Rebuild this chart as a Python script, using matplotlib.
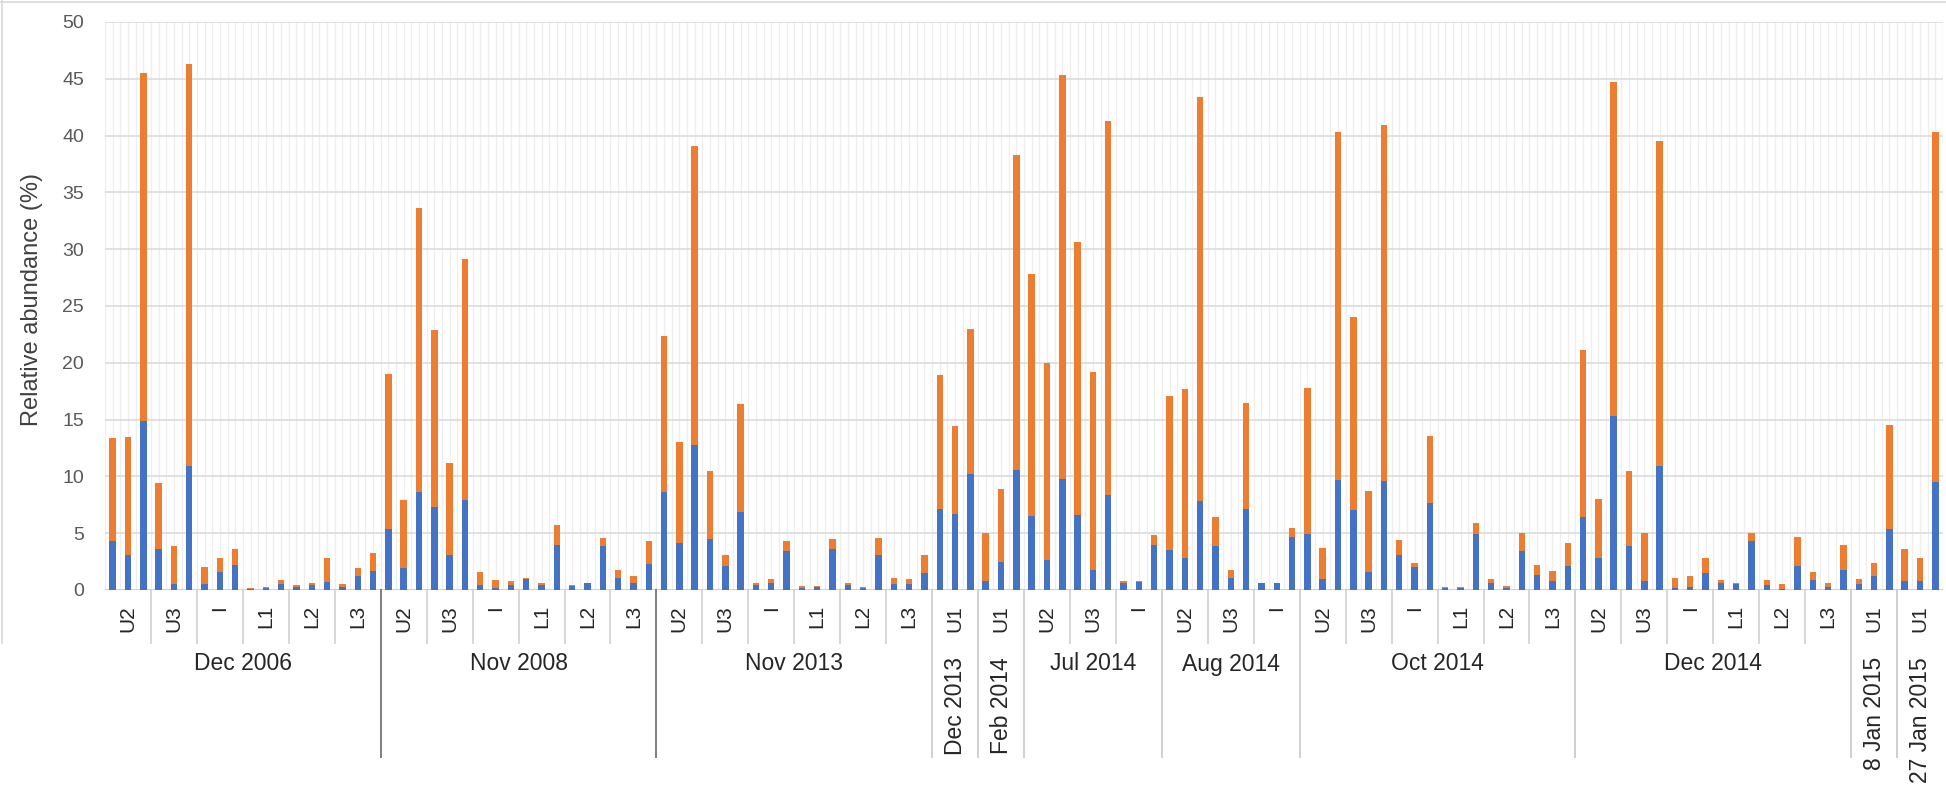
import numpy as np
import matplotlib
matplotlib.use('Agg')
import matplotlib.pyplot as plt
from matplotlib.lines import Line2D

plt.rcParams['font.family'] = ['Liberation Sans', 'DejaVu Sans']

# sampling dates and the sites sampled on each date (3 samples per site)
dates = ['Dec 2006', 'Nov 2008', 'Nov 2013', 'Dec 2013', 'Feb 2014', 'Jul 2014',
         'Aug 2014', 'Oct 2014', 'Dec 2014', '8 Jan 2015', '27 Jan 2015']
sites = [['U2', 'U3', 'I', 'L1', 'L2', 'L3'],
         ['U2', 'U3', 'I', 'L1', 'L2', 'L3'],
         ['U2', 'U3', 'I', 'L1', 'L2', 'L3'],
         ['U1'],
         ['U1'],
         ['U2', 'U3', 'I'],
         ['U2', 'U3', 'I'],
         ['U2', 'U3', 'I', 'L1', 'L2', 'L3'],
         ['U2', 'U3', 'I', 'L1', 'L2', 'L3'],
         ['U1'],
         ['U1']]
reps = 3

# lower (blue) part of each bar
blue = [4.3, 3.1, 14.9, 3.6, 0.5, 10.9, 0.5, 1.6, 2.2, 0.05, 0.2, 0.5, 0.3, 0.4, 0.7, 0.3, 1.2, 1.65,
        5.4, 1.9, 8.6, 7.3, 3.1, 7.9, 0.4, 0.2, 0.4, 1.0, 0.45, 4.0, 0.35, 0.6, 3.9, 1.1, 0.65, 2.3,
        8.6, 4.1, 12.8, 4.5, 2.1, 6.9, 0.4, 0.6, 3.4, 0.2, 0.25, 3.6, 0.4, 0.15, 3.1, 0.5, 0.5, 1.5,
        7.1, 6.7, 10.2,
        0.75, 2.5, 10.6,
        6.5, 2.6, 9.8, 6.6, 1.8, 8.4, 0.6, 0.7, 4.0,
        3.5, 2.8, 7.8, 3.9, 1.1, 7.1, 0.6, 0.6, 4.7,
        4.9, 1.0, 9.7, 7.0, 1.55, 9.6, 3.1, 2.0, 7.7, 0.15, 0.15, 4.9, 0.6, 0.2, 3.4, 1.35, 0.8, 2.1,
        6.4, 2.8, 15.3, 3.9, 0.75, 10.9, 0.2, 0.3, 1.5, 0.65, 0.5, 4.3, 0.4, 0.1, 2.1, 0.9, 0.3, 1.8,
        0.5, 1.25, 5.4,
        0.75, 0.75, 9.5]

# upper (orange) part of each bar
orange = [9.1, 10.4, 30.6, 5.8, 3.4, 35.4, 1.5, 1.2, 1.4, 0.15, 0.1, 0.35, 0.15, 0.2, 2.1, 0.25, 0.75, 1.65,
          13.6, 6.0, 25.0, 15.6, 8.1, 21.2, 1.15, 0.7, 0.35, 0.1, 0.15, 1.7, 0.1, 0.05, 0.7, 0.7, 0.55, 2.0,
          13.8, 8.9, 26.3, 6.0, 1.0, 9.5, 0.25, 0.4, 0.9, 0.15, 0.1, 0.9, 0.25, 0.1, 1.5, 0.6, 0.5, 1.6,
          11.8, 7.7, 12.8,
          4.25, 6.4, 27.7,
          21.3, 17.4, 35.5, 24.0, 17.4, 32.9, 0.15, 0.05, 0.85,
          13.6, 14.9, 35.6, 2.55, 0.65, 9.4, 0.05, 0.05, 0.8,
          12.9, 2.7, 30.6, 17.0, 7.15, 31.3, 1.3, 0.4, 5.9, 0.1, 0.1, 1.0, 0.4, 0.15, 1.6, 0.85, 0.85, 2.0,
          14.7, 5.2, 29.4, 6.6, 4.25, 28.6, 0.9, 0.9, 1.35, 0.25, 0.15, 0.75, 0.5, 0.4, 2.6, 0.65, 0.35, 2.2,
          0.5, 1.15, 9.1,
          2.9, 2.1, 30.8]

W, H = 1946, 787
fig = plt.figure(figsize=(W / 100, H / 100), dpi=100)
ax = fig.add_axes([105 / W, (H - 590) / H, 1838 / W, 568 / H])

x = np.arange(len(blue))
ax.bar(x, blue, width=0.42, color='#4472C4', zorder=3)
ax.bar(x, orange, width=0.42, bottom=blue, color='#ED7D31', zorder=3)

ax.set_xlim(-0.5, len(blue) - 0.5)
ax.set_ylim(0, 50)
ax.set_yticks(np.arange(0, 51, 5))
ax.set_xticks([])
ax.set_xticks(np.arange(-0.5, len(blue), 0.5), minor=True)
ax.tick_params(axis='y', length=0, pad=15, labelsize=14, labelcolor='#595959')
ax.tick_params(axis='x', which='minor', length=0)
ax.grid(axis='y', color='#d9d9d9', linewidth=1.1, zorder=0)
ax.grid(axis='x', which='minor', color='#eeeeee', linewidth=0.9, zorder=0)
for s in ax.spines.values():
    s.set_visible(False)
ax.axhline(0, color='#d0d0d0', linewidth=1.2, zorder=2)

fig.text(32 / W, (H - 299) / H, 'Relative abundance (%)', rotation=90,
         ha='center', va='center', fontsize=17, color='#404040')

# multi-level category axis
tr = ax.get_xaxis_transform()
ph = 568.0
site_top = -15 / ph
site_sep = -53 / ph
date_mid = -74 / ph
date_sep = -167 / ph
rot_top = -67 / ph

pos = 0
for d, (date, slist) in enumerate(zip(dates, sites)):
    start = pos
    for k, s in enumerate(slist):
        c = pos + (reps - 1) / 2
        ax.text(c, site_top, s, transform=tr, rotation=90, ha='center', va='top',
                fontsize=15, color='#262626')
        if k > 0:
            ax.add_line(Line2D([pos - 0.5, pos - 0.5], [0, site_sep], transform=tr,
                               color='#d0d0d0', linewidth=1.2, clip_on=False))
        pos += reps
    mid = (start + pos - 1) / 2
    if len(slist) == 1:
        ax.text(mid, rot_top, date, transform=tr, rotation=90, ha='center', va='top',
                fontsize=16.5, color='#262626')
    else:
        ax.text(mid, date_mid, date, transform=tr, ha='center', va='center',
                fontsize=16.5, color='#262626')
    if d > 0:
        col = '#7f7f7f' if d in (1, 2) else '#d0d0d0'
        ax.add_line(Line2D([start - 0.5, start - 0.5], [0, date_sep], transform=tr,
                           color=col, linewidth=1.4, clip_on=False))

# chart border remnants
fig.add_artist(Line2D([0, 1], [1 - 2 / H, 1 - 2 / H], transform=fig.transFigure,
                      color='#d9d9d9', linewidth=1.2))
fig.add_artist(Line2D([1.5 / W, 1.5 / W], [1, (H - 643) / H], transform=fig.transFigure,
                      color='#d9d9d9', linewidth=1.2))

fig.savefig('out.png', dpi=100, facecolor='white')
